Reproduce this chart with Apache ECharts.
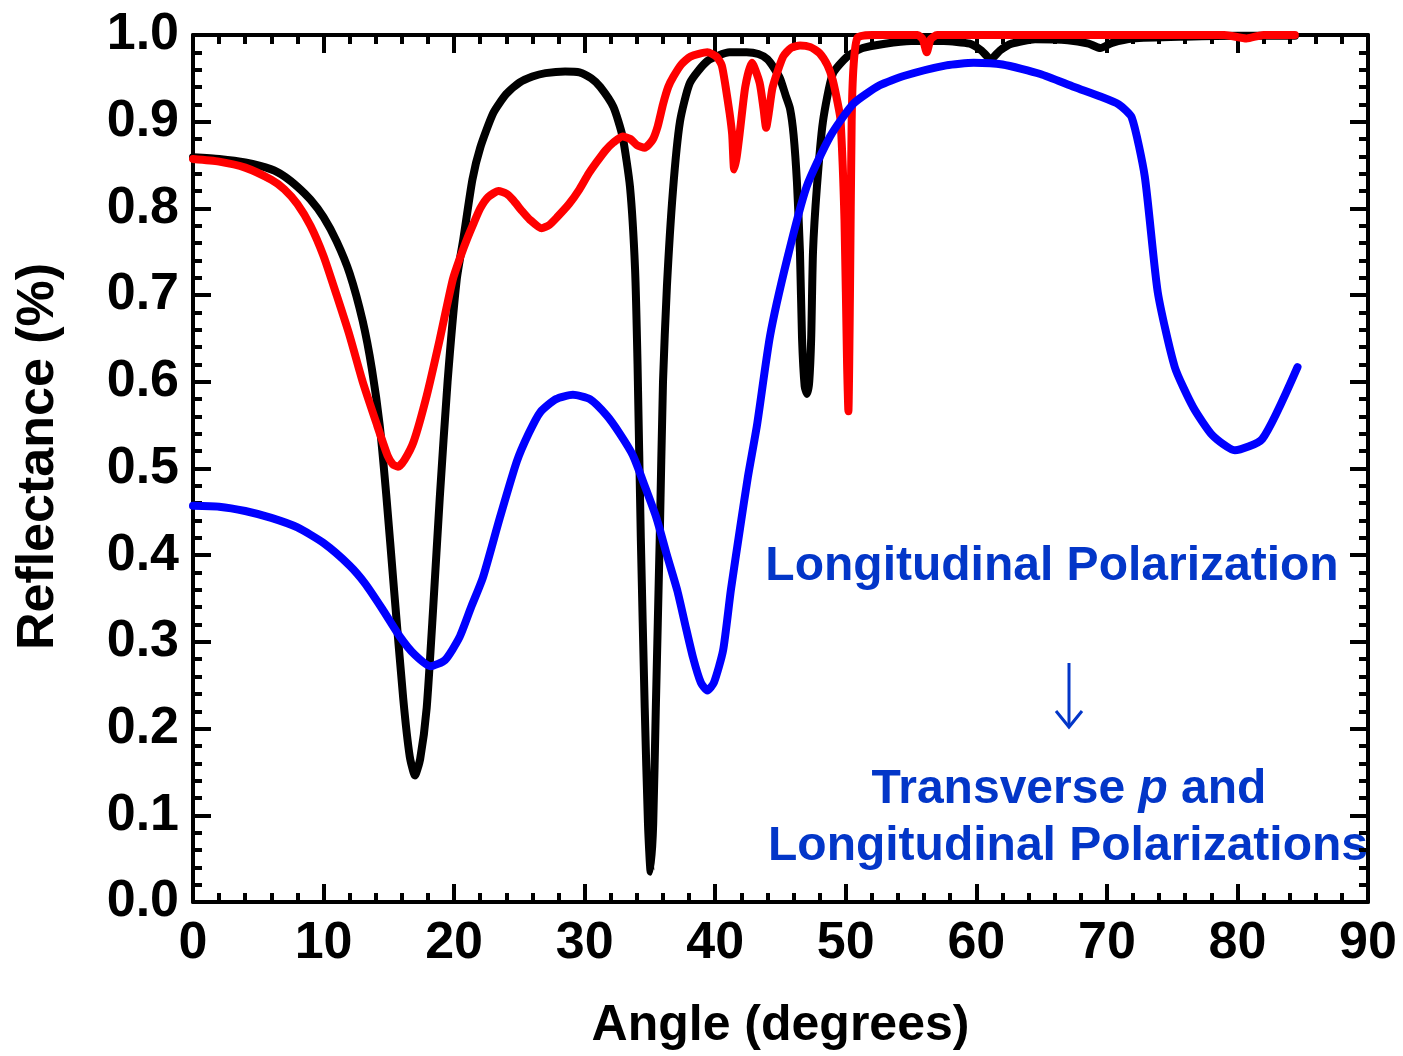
<!DOCTYPE html>
<html lang="en">
<head>
  <meta charset="UTF-8">
  <script src="https://cdn.jsdelivr.net/npm/echarts@6/dist/echarts.min.js"></script>
  <style>
    body { margin: 0; background: #fff; }
    #container { width: 1403px; height: 1056px; }
  </style>
</head>
<body>
  <div id="container"></div>
  <script>
    // angle (deg) / reflectance
    var blackAngle = [0, 2, 4, 6, 7, 8, 9, 10, 11, 12, 13, 13.7, 14.3, 14.8, 15.4, 16.1, 16.6, 17.0, 17.4, 17.9, 18.4, 18.9, 19.5, 20.2, 20.7, 21.4, 22, 23, 24, 25, 26, 27, 28.5, 29.6, 30.5, 31.2, 32.2, 32.9, 33.47, 33.86, 34.05, 34.3, 34.6, 34.85, 35.05, 35.25, 35.45, 35.75, 36.0, 36.3, 36.76, 37.3, 38.07, 39.4, 41.1, 42.4, 43.3, 44.0, 44.5, 44.96, 45.4, 45.73, 46.0, 46.26, 46.49, 46.65, 46.85, 47.03, 47.2, 47.35, 47.49, 47.79, 48.25, 49.0, 50.1, 51.3, 53, 55, 57.5, 59.5, 60.4, 61.1, 61.8, 62.7, 64.5, 67, 68.6, 69.5, 70.4, 72, 76, 80, 84.4];
    var blackR = [0.859, 0.857, 0.853, 0.845, 0.837, 0.825, 0.81, 0.79, 0.762, 0.725, 0.67, 0.615, 0.55, 0.47, 0.36, 0.235, 0.168, 0.146, 0.165, 0.224, 0.34, 0.466, 0.60, 0.718, 0.764, 0.833, 0.87, 0.91, 0.932, 0.945, 0.952, 0.956, 0.958, 0.957, 0.95, 0.94, 0.917, 0.883, 0.825, 0.73, 0.62, 0.42, 0.224, 0.09, 0.035, 0.09, 0.224, 0.42, 0.60, 0.71, 0.82, 0.90, 0.945, 0.97, 0.98, 0.98, 0.978, 0.972, 0.962, 0.95, 0.93, 0.915, 0.885, 0.83, 0.75, 0.65, 0.595, 0.586, 0.60, 0.65, 0.75, 0.825, 0.90, 0.955, 0.975, 0.985, 0.99, 0.993, 0.993, 0.99, 0.982, 0.972, 0.982, 0.99, 0.995, 0.994, 0.99, 0.985, 0.991, 0.996, 0.998, 0.999, 0.999];

    var redAngle = [0, 2, 4, 6, 7, 8, 9, 10, 11, 12, 13, 14.1, 14.9, 15.3, 15.7, 16.2, 16.9, 17.9, 18.9, 19.9, 20.5, 21.0, 21.5, 22.0, 22.6, 23.4, 24.0, 24.5, 25.2, 25.8, 26.7, 27.3, 27.9, 28.8, 29.6, 30.3, 30.9, 31.6, 32.2, 32.9, 33.5, 34.0, 34.6, 35.2, 35.6, 36.0, 36.4, 36.8, 37.4, 38.1, 39.4, 40.1, 40.5, 40.8, 41.1, 41.3, 41.45, 41.65, 41.9, 42.3, 42.8, 43.4, 43.7, 43.9, 44.1, 44.4, 45.2, 45.8, 46.5, 47.3, 48.0, 48.6, 49.0, 49.4, 49.6, 49.9, 50.1, 50.2, 50.32, 50.45, 50.6, 50.9, 52, 55.5, 55.9, 56.2, 56.5, 57, 79, 80.7, 82, 84.4];
    var redR = [0.857, 0.854, 0.847, 0.833, 0.822, 0.805, 0.78, 0.745, 0.70, 0.653, 0.60, 0.55, 0.515, 0.505, 0.502, 0.51, 0.531, 0.584, 0.649, 0.718, 0.745, 0.765, 0.783, 0.80, 0.813, 0.82, 0.817, 0.81, 0.797, 0.787, 0.777, 0.781, 0.79, 0.805, 0.822, 0.84, 0.853, 0.867, 0.876, 0.883, 0.88, 0.873, 0.87, 0.879, 0.895, 0.92, 0.94, 0.952, 0.966, 0.975, 0.98, 0.975, 0.965, 0.94, 0.91, 0.885, 0.845, 0.86, 0.89, 0.94, 0.968, 0.945, 0.915, 0.893, 0.91, 0.94, 0.975, 0.985, 0.988, 0.986, 0.979, 0.965, 0.948, 0.92, 0.902, 0.787, 0.62, 0.566, 0.70, 0.90, 0.965, 0.997, 1.0, 1.0, 0.995, 0.98, 0.995, 1.0, 1.0, 0.996, 1.0, 1.0];

    var blueAngle = [0, 2, 4, 6, 8, 10, 12, 13.2, 14.5, 15.9, 17.0, 18.2, 19.3, 20.4, 21.3, 22.2, 23.5, 24.8, 25.7, 26.6, 27.8, 29.1, 30.4, 31.7, 32.7, 33.7, 34.6, 35.5, 36.3, 37.1, 37.7, 38.3, 38.9, 39.4, 39.9, 40.6, 41.2, 41.9, 42.5, 43.2, 44.2, 45.5, 47.0, 48.8, 50.6, 52.6, 54.5, 57.7, 59.8, 62, 64.9, 67.5, 69.5, 70.9, 71.9, 72.9, 73.9, 75.2, 76.6, 78.1, 79.8, 81.9, 84.6];
    var blueR = [0.457, 0.456, 0.451, 0.443, 0.432, 0.414, 0.388, 0.367, 0.338, 0.305, 0.285, 0.272, 0.279, 0.305, 0.34, 0.374, 0.443, 0.508, 0.54, 0.565, 0.58, 0.585, 0.58, 0.561, 0.54, 0.515, 0.48, 0.443, 0.40, 0.359, 0.32, 0.282, 0.253, 0.244, 0.253, 0.29, 0.36, 0.431, 0.49, 0.55, 0.653, 0.741, 0.825, 0.883, 0.921, 0.942, 0.953, 0.965, 0.968, 0.966, 0.955, 0.94, 0.929, 0.92, 0.905, 0.837, 0.703, 0.617, 0.571, 0.538, 0.521, 0.534, 0.617];

    var FONT = '"Liberation Sans", Arial, sans-serif';
    var TEXT_BLUE = '#0336c8';

    function pairs(xs, ys) {
      var res = [];
      for (var i = 0; i < xs.length; i++) res.push([xs[i], ys[i]]);
      return res;
    }

    function curve(name, color, xs, ys) {
      return {
        name: name,
        type: 'line',
        data: pairs(xs, ys),
        showSymbol: false,
        smooth: 0.2,
        clip: false,
        lineStyle: { color: color, width: 8, join: 'round', cap: 'round' },
        silent: true
      };
    }

    var myChart = echarts.init(document.getElementById('container'));

    var axisLine = { show: true, onZero: false, lineStyle: { color: '#000', width: 4 } };
    var majorTick = { show: true, inside: true, length: 18, lineStyle: { color: '#000', width: 4 } };
    var minorTick = { show: true, splitNumber: 5, length: 9, lineStyle: { color: '#000', width: 4 } };

    var option = {
      backgroundColor: '#fff',
      animation: false,
      grid: { left: 193, right: 35, top: 35, bottom: 151 },
      xAxis: [{
        type: 'value', min: 0, max: 90, interval: 10,
        name: 'Angle (degrees)', nameLocation: 'middle', nameGap: 99,
        nameTextStyle: { fontFamily: FONT, fontWeight: 'bold', fontSize: 50, color: '#000' },
        axisLine: axisLine, axisTick: majorTick, minorTick: minorTick,
        axisLabel: { margin: 16, fontFamily: FONT, fontWeight: 'bold', fontSize: 52, color: '#000' },
        splitLine: { show: false }
      }, {
        type: 'value', position: 'top', min: 0, max: 90, interval: 10,
        axisLine: axisLine, axisTick: majorTick, minorTick: minorTick,
        axisLabel: { show: false }, splitLine: { show: false }
      }],
      yAxis: [{
        type: 'value', min: 0, max: 1, interval: 0.1,
        name: 'Reflectance (%)', nameLocation: 'middle', nameGap: 128,
        nameTextStyle: { fontFamily: FONT, fontWeight: 'bold', fontSize: 52, color: '#000', padding: [0, 0, 0, 24] },
        axisLine: axisLine, axisTick: majorTick, minorTick: minorTick,
        axisLabel: {
          margin: 14, fontFamily: FONT, fontWeight: 'bold', fontSize: 52, color: '#000',
          padding: [0, 0, 8, 0],
          formatter: function (v) { return v.toFixed(1); }
        },
        splitLine: { show: false }
      }, {
        type: 'value', position: 'right', min: 0, max: 1, interval: 0.1,
        axisLine: axisLine, axisTick: majorTick, minorTick: minorTick,
        axisLabel: { show: false }, splitLine: { show: false }
      }],
      series: [
        curve('black', '#000000', blackAngle, blackR),
        curve('red', '#ff0000', redAngle, redR),
        curve('blue', '#0000ff', blueAngle, blueR)
      ],
      graphic: [
        {
          type: 'text', x: 1052, y: 567,
          style: { text: 'Longitudinal Polarization', fill: TEXT_BLUE, font: 'bold 48px ' + FONT, align: 'center', verticalAlign: 'middle' }
        },
        {
          type: 'line', shape: { x1: 1069, y1: 663, x2: 1069, y2: 725 },
          style: { stroke: TEXT_BLUE, lineWidth: 3 }
        },
        {
          type: 'polyline', shape: { points: [[1056, 711], [1069, 727], [1082, 711]] },
          style: { stroke: TEXT_BLUE, lineWidth: 3, fill: null }
        },
        {
          type: 'text', x: 1069, y: 790,
          style: {
            text: '{a|Transverse }{b|p}{a| and}', align: 'center', verticalAlign: 'middle',
            rich: {
              a: { fill: TEXT_BLUE, fontFamily: FONT, fontWeight: 'bold', fontSize: 48 },
              b: { fill: TEXT_BLUE, fontFamily: FONT, fontWeight: 'bold', fontStyle: 'italic', fontSize: 48 }
            }
          }
        },
        {
          type: 'text', x: 1068, y: 847,
          style: { text: 'Longitudinal Polarizations', fill: TEXT_BLUE, font: 'bold 48px ' + FONT, align: 'center', verticalAlign: 'middle' }
        }
      ]
    };

    myChart.setOption(option);
  </script>
</body>
</html>
